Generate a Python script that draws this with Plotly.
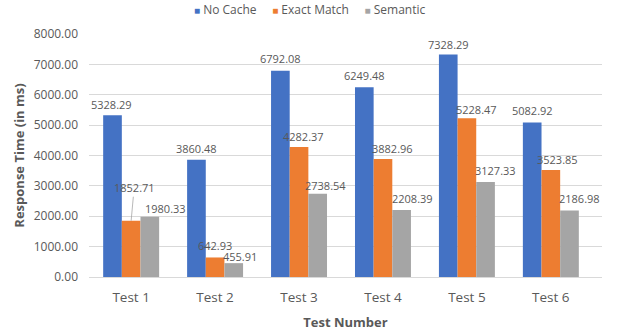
import plotly.graph_objects as go

# Response times (ms) per test run, for each caching strategy
tests = ["Test 1", "Test 2", "Test 3", "Test 4", "Test 5", "Test 6"]
no_cache = [5328.29, 3860.48, 6792.08, 6249.48, 7328.29, 5082.92]
exact_match = [1852.71, 642.93, 4282.37, 3882.96, 5228.47, 3523.85]
semantic = [1980.33, 455.91, 2738.54, 2208.39, 3127.33, 2186.98]

series_names = ["No Cache", "Exact Match", "Semantic"]
series_values = [no_cache, exact_match, semantic]
colors = ["#4472C4", "#ED7D31", "#A5A5A5"]

TEXT = "#595959"
GRID = "#D9D9D9"
FONT = "Open Sans"

BARGAP = 1 / 3
bar_w = (1 - BARGAP) / 3  # width of one bar in category units

# pixel nudges (dx, dy) of each value label relative to the top centre of its bar
label_nudge = [
    [(-1, -11), (0, -11), (0, -12), (0, -12), (0, -10), (0, -12)],
    [(3, -33), (0, -12), (4.5, -10.5), (9.5, -11), (10, -9), (6.5, -10.5)],
    [(15.5, -8.5), (6, -6.5), (8, -8.5), (11, -11.5), (10, -12), (10, -11.7)],
]
leader_lines = {(1, 0)}  # labels tied to their bar with a thin line

fig = go.Figure()
for name, vals, col in zip(series_names, series_values, colors):
    fig.add_trace(go.Bar(x=tests, y=vals, name=name, marker_color=col,
                         marker_line_width=0, showlegend=False))

annotations = []
for j, vals in enumerate(series_values):
    for i, v in enumerate(vals):
        dx, dy = label_nudge[j][i]
        xpos = i + (j - 1) * bar_w
        if (j, i) in leader_lines:
            annotations.append(dict(
                x=xpos, y=v, xref="x", yref="y", text=f"{v:.2f}",
                showarrow=True, arrowhead=0, arrowwidth=0.8, arrowcolor="#A6A6A6",
                ax=dx, ay=dy, standoff=0,
                font=dict(family=FONT, size=11, color=TEXT)))
        else:
            annotations.append(dict(
                x=xpos, y=v, xref="x", yref="y", text=f"{v:.2f}",
                showarrow=False, xanchor="center", yanchor="middle",
                xshift=dx, yshift=-dy,
                font=dict(family=FONT, size=11, color=TEXT)))

# compact legend row above the plot
legend_parts = [f"<span style='color:{c};font-size:10px'>■</span> {n}"
                for n, c in zip(series_names, colors)]
annotations.append(dict(
    x=0.43, y=1.1016, xref="paper", yref="paper",
    text="&nbsp;&nbsp;&nbsp;&nbsp;&nbsp;".join(legend_parts),
    showarrow=False, xanchor="center", yanchor="middle",
    font=dict(family=FONT, size=12, color=TEXT)))

fig.update_layout(
    width=619, height=336,
    margin=dict(l=89, r=17, t=34, b=59),
    paper_bgcolor="white", plot_bgcolor="white",
    barmode="group", bargap=BARGAP, bargroupgap=0,
    font=dict(family=FONT, color=TEXT),
    annotations=annotations,
    xaxis=dict(
        title=dict(text="<b>Test Number</b>", font=dict(size=13, color=TEXT), standoff=12),
        tickfont=dict(size=13.5, color=TEXT),
        showline=True, linecolor=GRID, linewidth=1,
        ticks="", ticklabelstandoff=8, automargin=False,
    ),
    yaxis=dict(
        title=dict(text="<b>Response Time (in ms)</b>", font=dict(size=13, color=TEXT), standoff=6),
        range=[0, 8000], dtick=1000, tickformat=".2f",
        tickfont=dict(size=12, color=TEXT),
        showgrid=True, gridcolor=GRID, gridwidth=1,
        zeroline=False, ticks="", ticklabelstandoff=10, automargin=False,
    ),
)

fig.write_html("out.html")
